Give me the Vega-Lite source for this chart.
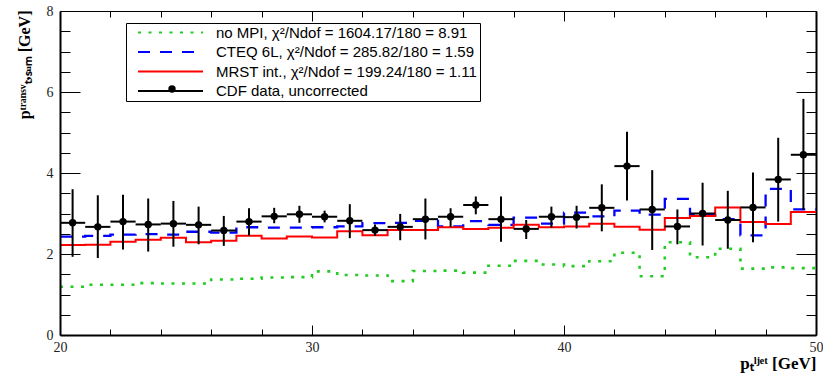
{
  "$schema": "https://vega.github.io/schema/vega-lite/v6.json",
  "autosize": {"type": "none"},
  "width": 756,
  "height": 324,
  "padding": {"left": 60, "top": 11, "right": 7, "bottom": 38},
  "background": "white",
  "config": {"view": {"stroke": null}, "axis": {"grid": false}},
  "data": {"values": [
    {"lo":20,"hi":21,"pt":20.5,"noMPI":1.19,"CTEQ":2.43,"MRST":2.22,"y":2.77,"ylo":1.93,"yhi":3.60},
    {"lo":21,"hi":22,"pt":21.5,"noMPI":1.24,"CTEQ":2.45,"MRST":2.23,"y":2.67,"ylo":1.90,"yhi":3.45},
    {"lo":22,"hi":23,"pt":22.5,"noMPI":1.24,"CTEQ":2.48,"MRST":2.30,"y":2.80,"ylo":2.11,"yhi":3.46},
    {"lo":23,"hi":24,"pt":23.5,"noMPI":1.28,"CTEQ":2.49,"MRST":2.35,"y":2.73,"ylo":2.06,"yhi":3.37},
    {"lo":24,"hi":25,"pt":24.5,"noMPI":1.27,"CTEQ":2.48,"MRST":2.40,"y":2.75,"ylo":2.18,"yhi":3.31},
    {"lo":25,"hi":26,"pt":25.5,"noMPI":1.27,"CTEQ":2.55,"MRST":2.29,"y":2.72,"ylo":2.24,"yhi":3.17},
    {"lo":26,"hi":27,"pt":26.5,"noMPI":1.37,"CTEQ":2.53,"MRST":2.33,"y":2.58,"ylo":2.20,"yhi":2.94},
    {"lo":27,"hi":28,"pt":27.5,"noMPI":1.39,"CTEQ":2.66,"MRST":2.45,"y":2.80,"ylo":2.45,"yhi":3.13},
    {"lo":28,"hi":29,"pt":28.5,"noMPI":1.42,"CTEQ":2.65,"MRST":2.38,"y":2.93,"ylo":2.76,"yhi":3.14},
    {"lo":29,"hi":30,"pt":29.5,"noMPI":1.43,"CTEQ":2.65,"MRST":2.43,"y":2.98,"ylo":2.77,"yhi":3.19},
    {"lo":30,"hi":31,"pt":30.5,"noMPI":1.57,"CTEQ":2.66,"MRST":2.41,"y":2.92,"ylo":2.78,"yhi":3.07},
    {"lo":31,"hi":32,"pt":31.5,"noMPI":1.48,"CTEQ":2.68,"MRST":2.56,"y":2.82,"ylo":2.39,"yhi":3.23},
    {"lo":32,"hi":33,"pt":32.5,"noMPI":1.47,"CTEQ":2.76,"MRST":2.46,"y":2.59,"ylo":2.45,"yhi":2.73},
    {"lo":33,"hi":34,"pt":33.5,"noMPI":1.33,"CTEQ":2.77,"MRST":2.59,"y":2.67,"ylo":2.34,"yhi":2.99},
    {"lo":34,"hi":35,"pt":34.5,"noMPI":1.58,"CTEQ":2.82,"MRST":2.59,"y":2.86,"ylo":2.36,"yhi":3.37},
    {"lo":35,"hi":36,"pt":35.5,"noMPI":1.59,"CTEQ":2.68,"MRST":2.66,"y":2.92,"ylo":2.67,"yhi":3.13},
    {"lo":36,"hi":37,"pt":36.5,"noMPI":1.54,"CTEQ":2.81,"MRST":2.62,"y":3.21,"ylo":2.98,"yhi":3.42},
    {"lo":37,"hi":38,"pt":37.5,"noMPI":1.71,"CTEQ":2.72,"MRST":2.65,"y":2.86,"ylo":2.30,"yhi":3.42},
    {"lo":38,"hi":39,"pt":38.5,"noMPI":1.83,"CTEQ":2.90,"MRST":2.72,"y":2.62,"ylo":2.37,"yhi":2.84},
    {"lo":39,"hi":40,"pt":39.5,"noMPI":1.74,"CTEQ":2.75,"MRST":2.66,"y":2.92,"ylo":2.65,"yhi":3.17},
    {"lo":40,"hi":41,"pt":40.5,"noMPI":1.70,"CTEQ":3.02,"MRST":2.68,"y":2.91,"ylo":2.63,"yhi":3.19},
    {"lo":41,"hi":42,"pt":41.5,"noMPI":1.82,"CTEQ":2.93,"MRST":2.75,"y":3.14,"ylo":2.56,"yhi":3.72},
    {"lo":42,"hi":43,"pt":42.5,"noMPI":2.03,"CTEQ":3.07,"MRST":2.67,"y":4.17,"ylo":3.32,"yhi":5.02},
    {"lo":43,"hi":44,"pt":43.5,"noMPI":1.45,"CTEQ":2.97,"MRST":2.60,"y":3.10,"ylo":2.10,"yhi":4.07},
    {"lo":44,"hi":45,"pt":44.5,"noMPI":2.29,"CTEQ":3.36,"MRST":2.89,"y":2.68,"ylo":2.24,"yhi":3.10},
    {"lo":45,"hi":46,"pt":45.5,"noMPI":1.92,"CTEQ":2.96,"MRST":2.94,"y":3.00,"ylo":2.21,"yhi":3.76},
    {"lo":46,"hi":47,"pt":46.5,"noMPI":2.13,"CTEQ":2.86,"MRST":3.15,"y":2.84,"ylo":2.13,"yhi":3.56},
    {"lo":47,"hi":48,"pt":47.5,"noMPI":1.64,"CTEQ":2.46,"MRST":2.79,"y":3.15,"ylo":2.29,"yhi":4.01},
    {"lo":48,"hi":49,"pt":48.5,"noMPI":1.67,"CTEQ":3.61,"MRST":2.74,"y":3.84,"ylo":2.80,"yhi":4.87},
    {"lo":49,"hi":50,"pt":49.5,"noMPI":1.65,"CTEQ":3.10,"MRST":3.04,"y":4.45,"ylo":3.09,"yhi":5.83}
  ]},
  "layer": [
    {
      "transform": [
        {"fold": ["noMPI", "CTEQ", "MRST"], "as": ["series", "val"]},
        {"fold": ["lo", "hi"], "as": ["edge", "xe"]}
      ],
      "mark": {"type": "line", "strokeCap": "butt", "clip": true},
      "encoding": {
        "x": {"field": "xe", "type": "quantitative",
          "scale": {"domain": [20, 50], "nice": false, "zero": false},
          "axis": {"orient": "bottom", "values": [20, 30, 40, 50], "tickSize": -10, "tickColor": "black", "tickWidth": 1,
            "labelPadding": 15, "labelFont": "Liberation Serif", "labelFontSize": 14, "labelColor": "#222",
            "labelFlush": false, "labelOverlap": false, "domain": true, "domainColor": "black", "domainWidth": 2,
            "title": "pₜˡʲᵉᵗ [GeV]", "titleFont": "Liberation Serif", "titleFontWeight": "bold", "titleFontSize": 17,
            "titleColor": "black", "titleAnchor": "end", "titleAlign": "right", "titleBaseline": "alphabetic",
            "titleX": 756, "titleY": 33, "zindex": 1}},
        "y": {"field": "val", "type": "quantitative",
          "scale": {"domain": [0, 8], "nice": false, "zero": false},
          "axis": {"orient": "left", "values": [0, 2, 4, 6, 8], "tickSize": -20, "tickColor": "black", "tickWidth": 1,
            "labelPadding": 27, "labelFont": "Liberation Serif", "labelFontSize": 14, "labelColor": "#222",
            "labelFlush": false, "labelOverlap": false, "domain": true, "domainColor": "black", "domainWidth": 2,
            "title": "pᵗʳᵃⁿˢᵛₜ,ₛᵤₘ [GeV]", "titleFont": "Liberation Serif", "titleFontWeight": "bold", "titleFontSize": 16,
            "titleColor": "black", "titleAngle": -90, "titleAnchor": "end", "titleAlign": "right", "titleBaseline": "alphabetic",
            "titleX": -31, "titleY": -1, "zindex": 1}},
        "color": {"field": "series", "type": "nominal",
          "scale": {"domain": ["noMPI", "CTEQ", "MRST", "data"], "range": ["#22cc22", "#0000ff", "#ff0000", "#000000"]},
          "legend": {"orient": "none", "legendX": 66, "legendY": 12, "title": null, "padding": 2, "zindex": 1,
            "strokeColor": "black", "fillColor": "white", "cornerRadius": 0,
            "symbolType": "stroke", "symbolSize": 4225, "symbolStrokeWidth": 2, "symbolOffset": 9,
            "labelOffset": 12, "labelFont": "Liberation Sans", "labelFontSize": 15, "labelColor": "black", "labelLimit": 0,
            "clipHeight": 15, "rowPadding": 3.5,
            "labelExpr": "datum.value === 'noMPI' ? 'no MPI, χ²/Ndof = 1604.17/180 = 8.91\u00a0\u00a0\u00a0\u00a0\u00a0\u00a0\u00a0\u00a0\u00a0\u00a0\u00a0\u00a0\u00a0\u00a0\u00a0\u00a0\u00a0\u00a0\u00a0\u00a0' : datum.value === 'CTEQ' ? 'CTEQ 6L, χ²/Ndof = 285.82/180 = 1.59' : datum.value === 'MRST' ? 'MRST int., χ²/Ndof = 199.24/180 = 1.11' : 'CDF data, uncorrected'"}},
        "strokeDash": {"field": "series", "type": "nominal",
          "scale": {"domain": ["noMPI", "CTEQ", "MRST", "data"], "range": [[3, 7.5], [12, 10], [1, 0], [1, 0]]},
          "legend": {"orient": "none", "legendX": 66, "legendY": 12, "title": null, "padding": 2, "zindex": 1,
            "strokeColor": "black", "fillColor": "white", "cornerRadius": 0,
            "symbolType": "stroke", "symbolSize": 4225, "symbolStrokeWidth": 2, "symbolOffset": 9,
            "labelOffset": 12, "labelFont": "Liberation Sans", "labelFontSize": 15, "labelColor": "black", "labelLimit": 0,
            "clipHeight": 15, "rowPadding": 3.5,
            "labelExpr": "datum.value === 'noMPI' ? 'no MPI, χ²/Ndof = 1604.17/180 = 8.91\u00a0\u00a0\u00a0\u00a0\u00a0\u00a0\u00a0\u00a0\u00a0\u00a0\u00a0\u00a0\u00a0\u00a0\u00a0\u00a0\u00a0\u00a0\u00a0\u00a0' : datum.value === 'CTEQ' ? 'CTEQ 6L, χ²/Ndof = 285.82/180 = 1.59' : datum.value === 'MRST' ? 'MRST int., χ²/Ndof = 199.24/180 = 1.11' : 'CDF data, uncorrected'"}},
        "strokeWidth": {"field": "series", "type": "nominal",
          "scale": {"domain": ["noMPI", "CTEQ", "MRST"], "range": [2.6, 2, 2]}, "legend": null},
        "order": [{"field": "xe", "type": "quantitative"}, {"field": "edge", "type": "nominal"}]
      }
    },
    {
      "mark": {"type": "rule", "color": "black", "strokeWidth": 2},
      "encoding": {
        "x": {"field": "pt", "type": "quantitative",
          "axis": {"orient": "bottom", "values": [22, 24, 26, 28, 32, 34, 36, 38, 42, 44, 46, 48], "tickSize": -6,
            "tickColor": "black", "tickWidth": 1, "labels": false, "domain": false, "title": null}},
        "y": {"field": "ylo", "type": "quantitative",
          "axis": {"orient": "left", "values": [0.5, 1, 1.5, 2.5, 3, 3.5, 4.5, 5, 5.5, 6.5, 7, 7.5], "tickSize": -10,
            "tickColor": "black", "tickWidth": 1, "labels": false, "domain": false, "title": null}},
        "y2": {"field": "yhi"}
      }
    },
    {
      "mark": {"type": "rule", "color": "black", "strokeWidth": 2},
      "encoding": {
        "x": {"field": "lo", "type": "quantitative",
          "axis": {"orient": "top", "values": [20, 30, 40, 50], "tickSize": -10, "tickColor": "black", "tickWidth": 1,
            "labels": false, "domain": true, "domainColor": "black", "domainWidth": 1, "title": null}},
        "x2": {"field": "hi"},
        "y": {"field": "y", "type": "quantitative",
          "axis": {"orient": "right", "values": [0, 2, 4, 6, 8], "tickSize": -20, "tickColor": "black", "tickWidth": 1,
            "labels": false, "domain": true, "domainColor": "black", "domainWidth": 2, "title": null}}
      }
    },
    {
      "mark": {"type": "point", "filled": true, "color": "black", "opacity": 1, "size": 55},
      "encoding": {
        "x": {"field": "pt", "type": "quantitative",
          "axis": {"orient": "top", "values": [22, 24, 26, 28, 32, 34, 36, 38, 42, 44, 46, 48], "tickSize": -6,
            "tickColor": "black", "tickWidth": 1, "labels": false, "domain": false, "title": null}},
        "y": {"field": "y", "type": "quantitative",
          "axis": {"orient": "right", "values": [0.5, 1, 1.5, 2.5, 3, 3.5, 4.5, 5, 5.5, 6.5, 7, 7.5], "tickSize": -10,
            "tickColor": "black", "tickWidth": 1, "labels": false, "domain": false, "title": null}},
        "shape": {"datum": "data", "type": "nominal",
          "scale": {"domain": ["data"], "range": ["circle"]},
          "legend": {"orient": "none", "legendX": 108, "legendY": 73, "title": null, "padding": 0, "zindex": 3,
            "strokeColor": null, "fillColor": null, "symbolSize": 55, "symbolFillColor": "black", "symbolStrokeColor": "black",
            "symbolStrokeWidth": 0, "symbolOffset": 0, "clipHeight": 10, "labelExpr": "''", "labelFontSize": 1, "labelOffset": 0}}
      }
    }
  ]
}
